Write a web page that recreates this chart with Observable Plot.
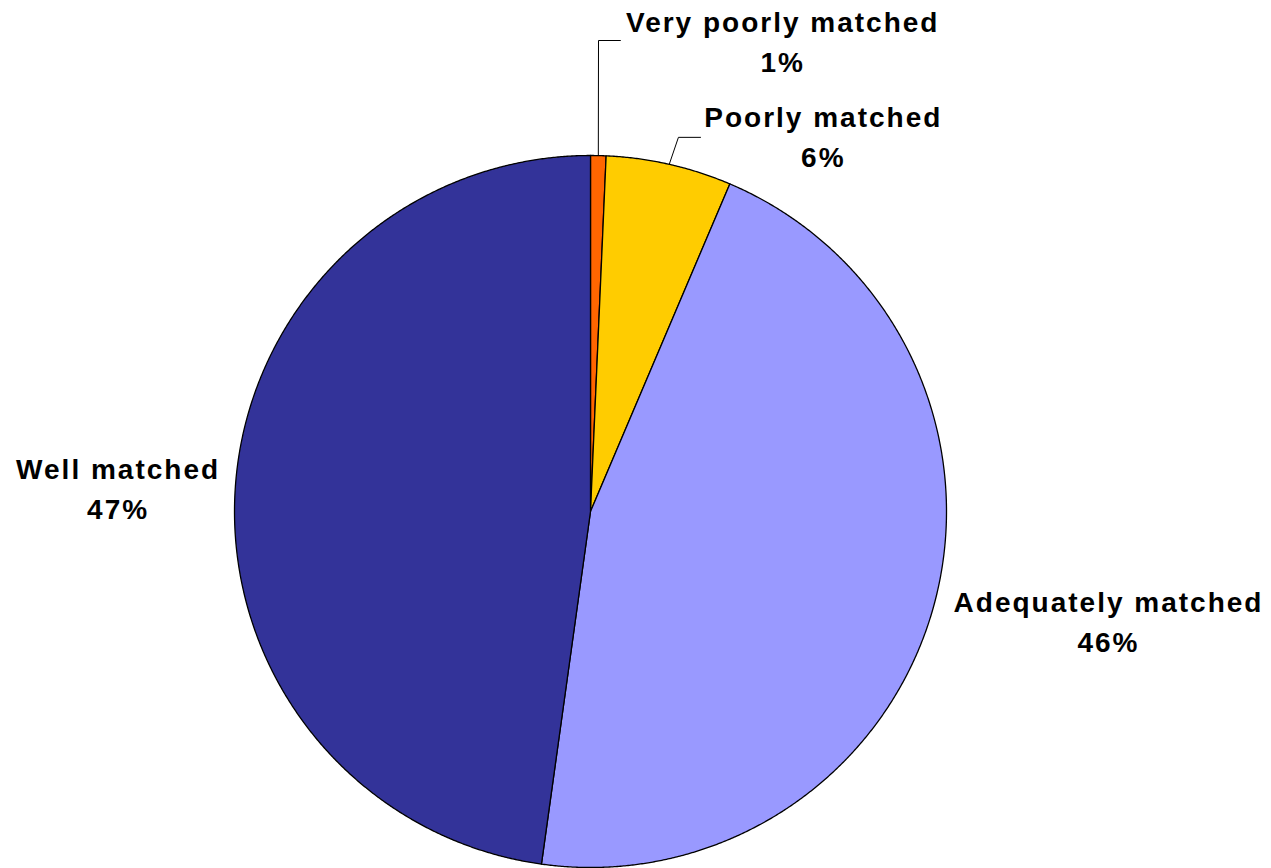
<!DOCTYPE html>
<html>
<head>
<meta charset="utf-8">
<script src="https://cdn.jsdelivr.net/npm/d3@7"></script>
<script src="https://cdn.jsdelivr.net/npm/@observablehq/plot@0.6"></script>
<style>
  html, body { margin: 0; padding: 0; background: #fff; }
</style>
</head>
<body>
<div id="chart"></div>
<script>
// Data (clockwise from 12 o'clock)
const categories = ["Very poorly matched", "Poorly matched", "Adequately matched", "Well matched"];
const values = [0.7, 5.7, 45.8, 47.8];
const valueLabels = ["1%", "6%", "46%", "47%"];
const colors = ["#FF6600", "#FFCC00", "#9999FF", "#333399"];

// Layout (unit-circle coordinates; radius = 1)
const labelPos = [[0.540, 1.327], [0.654, 1.059], [1.455, -0.303], [-1.327, 0.072]];
const leaderElbow = [[0.0225, 1.323], [0.247, 1.051], null, null];
const leaderEnd = [[0.084, 1.323], [0.309, 1.051], null, null];

const W = 1271, H = 868, CX = 590, CY = 511, R = 356;

const total = d3.sum(values);
let acc = 0;
const slices = categories.map((name, i) => {
  const a0 = acc / total * 2 * Math.PI;
  acc += values[i];
  const a1 = acc / total * 2 * Math.PI;
  return {name, i, a0, a1, mid: (a0 + a1) / 2, color: colors[i]};
});

function slicePoints(s) {
  const pts = [{x: 0, y: 0}];
  const n = Math.max(4, Math.ceil((s.a1 - s.a0) / (Math.PI / 720)));
  for (let k = 0; k <= n; k++) {
    const a = s.a0 + (s.a1 - s.a0) * k / n;
    pts.push({x: Math.sin(a), y: Math.cos(a)});
  }
  pts.push({x: 0, y: 0});
  return pts;
}

const marks = [];
slices.forEach(s => {
  marks.push(Plot.line(slicePoints(s), {x: "x", y: "y", fill: s.color, stroke: "#000", strokeWidth: 1.3, curve: "linear"}));
});

slices.forEach((s, i) => {
  if (leaderElbow[i]) {
    const pts = [
      {x: Math.sin(s.mid), y: Math.cos(s.mid)},
      {x: leaderElbow[i][0], y: leaderElbow[i][1]},
      {x: leaderEnd[i][0], y: leaderEnd[i][1]}
    ];
    marks.push(Plot.line(pts, {x: "x", y: "y", stroke: "#000", strokeWidth: 1}));
  }
});

const labels = slices.map((s, i) => ({x: labelPos[i][0], y: labelPos[i][1], text: categories[i] + "\n" + valueLabels[i]}));
marks.push(Plot.text(labels, {
  x: "x", y: "y", text: "text",
  fontSize: 28, fontWeight: "bold", fill: "#000",
  lineHeight: 40 / 28, textAnchor: "middle"
}));

const chart = Plot.plot({
  width: W, height: H,
  margin: 0,
  style: {fontFamily: "'Liberation Sans', Arial, sans-serif", background: "#fff", letterSpacing: "2px"},
  x: {domain: [-CX / R, (W - CX) / R], range: [0, W], axis: null},
  y: {domain: [-(H - CY) / R, CY / R], range: [H, 0], axis: null},
  marks
});
document.getElementById("chart").appendChild(chart);
</script>
</body>
</html>
